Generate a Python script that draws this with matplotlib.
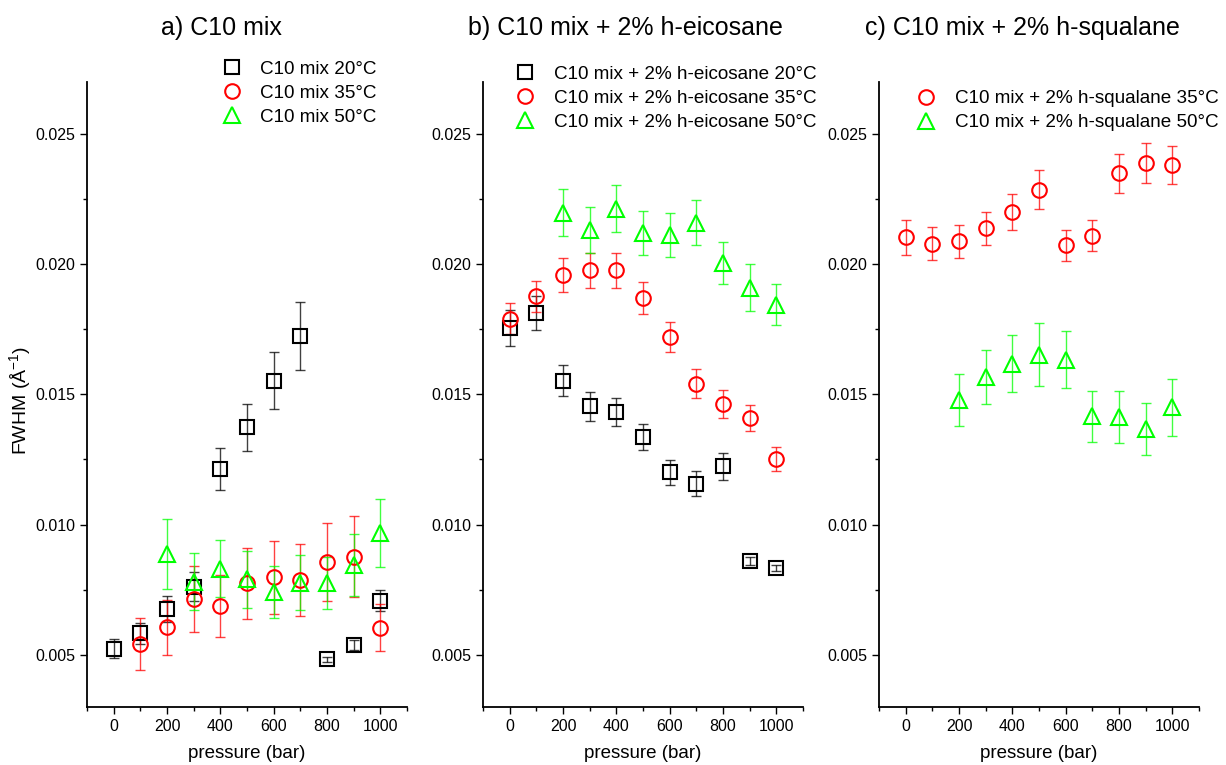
"""
FWHM vs pressure for C10 mix, with h-eicosane and h-squalane additions
"""

import numpy as np
from matplotlib import pyplot as plt
from matplotlib.ticker import MultipleLocator, FormatStrFormatter

plt.rcParams["font.family"] = ["Liberation Sans", "DejaVu Sans"]
plt.rcParams["mathtext.default"] = "regular"

PRESSURE = [0, 100, 200, 300, 400, 500, 600, 700, 800, 900, 1000]

# a) C10 mix
A_20_X = [0, 100, 200, 300, 400, 500, 600, 700, 800, 900, 1000]
A_20_Y = [0.00524, 0.00582, 0.00674, 0.00762, 0.01214, 0.01374, 0.01553, 0.01723, 0.00483, 0.00537, 0.00707]
A_20_E = [0.00037, 0.0004, 0.0005, 0.00057, 0.0008, 0.0009, 0.0011, 0.0013, 0.0001, 0.0002, 0.0004]
A_35_X = [100, 200, 300, 400, 500, 600, 700, 800, 900, 1000]
A_35_Y = [0.0054, 0.00605, 0.00714, 0.00688, 0.00774, 0.00797, 0.00787, 0.00855, 0.00877, 0.00604]
A_35_E = [0.001, 0.00105, 0.00125, 0.0012, 0.00137, 0.0014, 0.00137, 0.0015, 0.00155, 0.0009]
A_50_X = [200, 300, 400, 500, 600, 700, 800, 900, 1000]
A_50_Y = [0.00887, 0.00781, 0.0083, 0.0079, 0.0074, 0.00777, 0.00774, 0.00845, 0.00967]
A_50_E = [0.00135, 0.0011, 0.0011, 0.0011, 0.001, 0.00105, 0.001, 0.0012, 0.0013]

# b) C10 mix + 2% h-eicosane
B_20_X = [0, 100, 200, 300, 400, 500, 600, 700, 800, 900, 1000]
B_20_Y = [0.01755, 0.01813, 0.01553, 0.01454, 0.01432, 0.01336, 0.01201, 0.01157, 0.01223, 0.0086, 0.00832]
B_20_E = [0.0007, 0.00065, 0.00058, 0.00055, 0.00054, 0.0005, 0.00048, 0.00047, 0.0005, 0.00015, 0.00012]
B_35_X = [0, 100, 200, 300, 400, 500, 600, 700, 800, 900, 1000]
B_35_Y = [0.01791, 0.01877, 0.01958, 0.01976, 0.01976, 0.0187, 0.0172, 0.01541, 0.01464, 0.01409, 0.01251]
B_35_E = [0.0006, 0.0006, 0.00065, 0.00066, 0.00066, 0.0006, 0.00058, 0.00055, 0.00053, 0.0005, 0.00047]
B_50_X = [200, 300, 400, 500, 600, 700, 800, 900, 1000]
B_50_Y = [0.02197, 0.02131, 0.02213, 0.0212, 0.02112, 0.02159, 0.02005, 0.01909, 0.01845]
B_50_E = [0.0009, 0.00087, 0.0009, 0.00086, 0.00086, 0.00087, 0.0008, 0.0009, 0.0008]

# c) C10 mix + 2% h-squalane
C_35_X = [0, 100, 200, 300, 400, 500, 600, 700, 800, 900, 1000]
C_35_Y = [0.02104, 0.02078, 0.02088, 0.02137, 0.02201, 0.02285, 0.02072, 0.0211, 0.02349, 0.02387, 0.0238]
C_35_E = [0.00067, 0.00063, 0.00064, 0.00065, 0.00068, 0.00075, 0.0006, 0.0006, 0.00075, 0.00077, 0.00074]
C_50_X = [200, 300, 400, 500, 600, 700, 800, 900, 1000]
C_50_Y = [0.0148, 0.01567, 0.01618, 0.01653, 0.01633, 0.01415, 0.01412, 0.01368, 0.0145]
C_50_E = [0.001, 0.00105, 0.0011, 0.0012, 0.0011, 0.00097, 0.001, 0.001, 0.0011]

TITLES = ["a) C10 mix", "b) C10 mix + 2% h-eicosane", "c) C10 mix + 2% h-squalane"]

STYLE = {
    20: dict(marker="s", color="black", ms=9.5),
    35: dict(marker="o", color="red", ms=10.5),
    50: dict(marker="^", color="#00ff00", ms=12),
}

PANELS = [
    [(20, "C10 mix 20°C", A_20_X, A_20_Y, A_20_E),
     (35, "C10 mix 35°C", A_35_X, A_35_Y, A_35_E),
     (50, "C10 mix 50°C", A_50_X, A_50_Y, A_50_E)],
    [(20, "C10 mix + 2% h-eicosane 20°C", B_20_X, B_20_Y, B_20_E),
     (35, "C10 mix + 2% h-eicosane 35°C", B_35_X, B_35_Y, B_35_E),
     (50, "C10 mix + 2% h-eicosane 50°C", B_50_X, B_50_Y, B_50_E)],
    [(35, "C10 mix + 2% h-squalane 35°C", C_35_X, C_35_Y, C_35_E),
     (50, "C10 mix + 2% h-squalane 50°C", C_50_X, C_50_Y, C_50_E)],
]

AX_LEFT = [0.071, 0.394, 0.717]
TITLE_X = [0.181, 0.510, 0.834]
LEGEND_POS = [(0.422, 1.034), (0.103, 1.026), (0.118, 0.987)]


def plot_panel(ax, series, title_x, title, legend_pos, first):
    for temp, label, x, y, err in series:
        st = STYLE[temp]
        ax.errorbar(x, y, yerr=err, fmt="none", ecolor=st["color"],
                    elinewidth=1.0, capsize=3.5, capthick=1.0, alpha=0.75, zorder=2)
        ax.plot(x, y, linestyle="none", marker=st["marker"], markersize=st["ms"],
                markerfacecolor="none", markeredgecolor=st["color"],
                markeredgewidth=1.5, label=label, zorder=3)

    ax.set_xlim(-100, 1100)
    ax.set_ylim(0.003, 0.027)
    ax.xaxis.set_major_locator(MultipleLocator(200))
    ax.xaxis.set_minor_locator(MultipleLocator(100))
    ax.yaxis.set_major_locator(MultipleLocator(0.005))
    ax.yaxis.set_minor_locator(MultipleLocator(0.0025))
    ax.yaxis.set_major_formatter(FormatStrFormatter("%.3f"))
    ax.tick_params(which="both", direction="out", width=1.0, labelsize=11.5)
    ax.tick_params(which="major", length=5)
    ax.tick_params(which="minor", length=3)
    for side in ("top", "right"):
        ax.spines[side].set_visible(False)
    for side in ("left", "bottom"):
        ax.spines[side].set_linewidth(1.3)

    ax.set_xlabel("pressure (bar)", fontsize=13.5, labelpad=8)
    if first:
        ax.set_ylabel("FWHM (Å$^{-1}$)", fontsize=14)
        ax.yaxis.set_label_coords(-0.17, 0.49)

    plt.gcf().text(title_x, 0.963, title, fontsize=18, ha="center", va="center")

    ax.legend(loc="upper left", bbox_to_anchor=legend_pos, frameon=False,
              fontsize=13.6, handlelength=1.0, handletextpad=1.03,
              labelspacing=0.36, borderpad=0, borderaxespad=0)


def main():
    fig = plt.figure(figsize=(12.26, 7.65), dpi=100)
    for i in range(3):
        ax = fig.add_axes([AX_LEFT[i], 0.076, 0.261, 0.817])
        plot_panel(ax, PANELS[i], TITLE_X[i], TITLES[i], LEGEND_POS[i], i == 0)
    fig.savefig("out.png", dpi=100)


if __name__ == "__main__":
    main()
